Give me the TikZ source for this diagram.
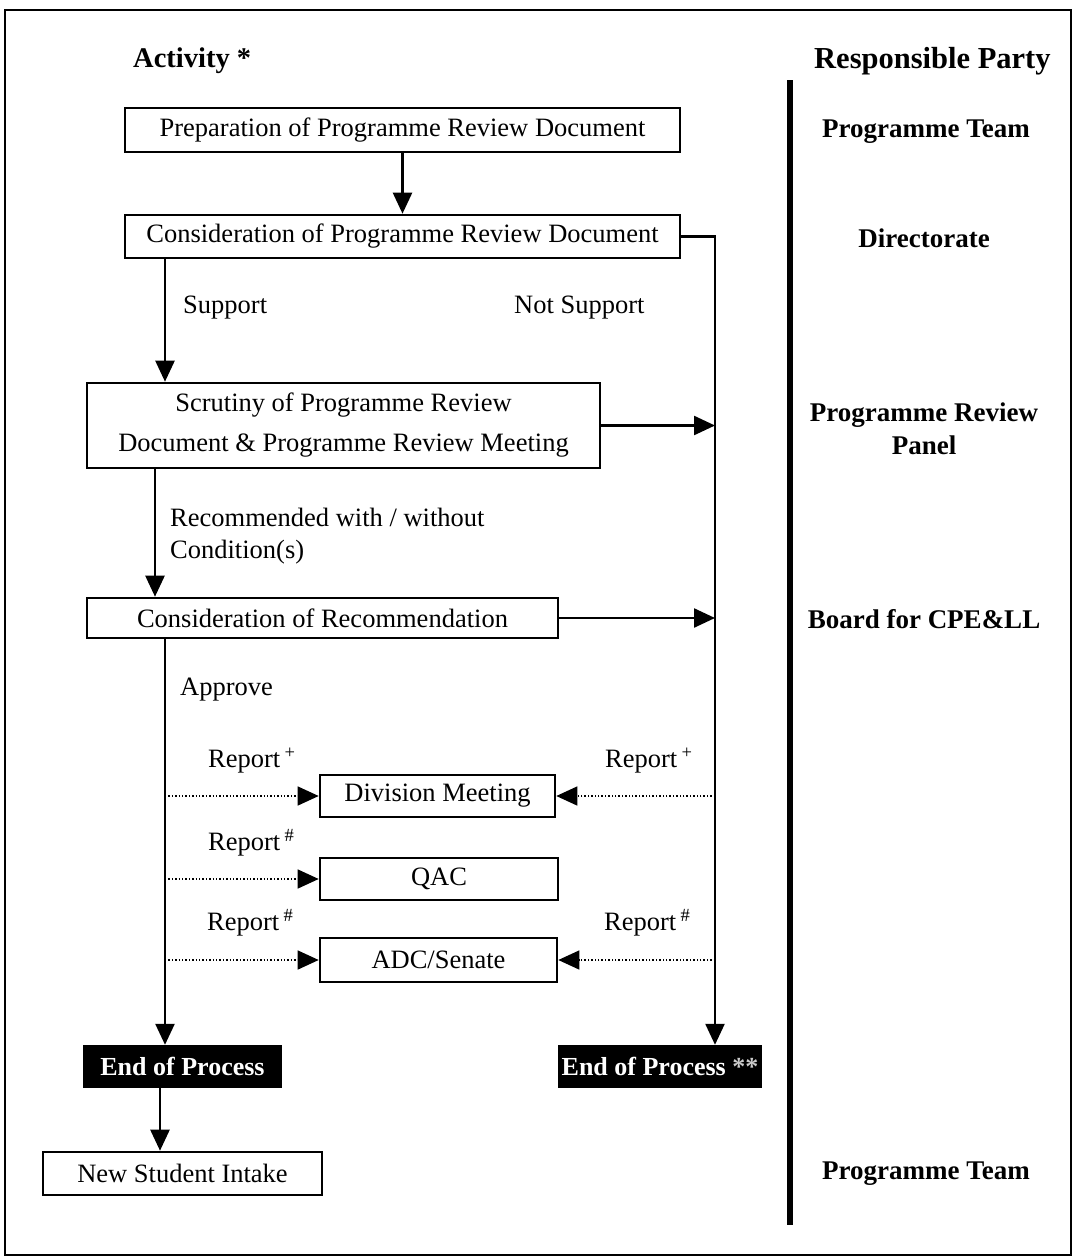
\documentclass[tikz,border=0pt]{standalone}
\usepackage{fontspec}
\setmainfont{Liberation Serif}
\usetikzlibrary{arrows.meta}
\newcommand{\rsup}[1]{\,\textsuperscript{#1}}
\begin{document}
\begin{tikzpicture}[x=1pt,y=-1pt,
  every node/.style={font=\fontsize{26.5}{31}\selectfont},
  box/.style={draw,line width=2.6pt,inner sep=0pt,align=center},
  endbox/.style={fill=black,text=white,inner sep=0pt,font=\fontsize{26}{31}\selectfont\bfseries},
  lbl/.style={anchor=west,inner sep=0pt,align=left},
  party/.style={font=\fontsize{27}{31}\selectfont\bfseries,align=center,inner sep=0pt},
  head/.style={font=\fontsize{30.5}{34}\selectfont\bfseries,inner sep=0pt},
  arr/.style={line width=2.4pt,-{Triangle[length=21pt,width=19pt]}},
  dotarr/.style={line width=1.4pt,dotted,-{Triangle[length=21pt,width=19pt]}}
]
\useasboundingbox (0,0) rectangle (1073,1258);
\draw[line width=2pt] (5,10) rectangle (1071,1255);

% headings
\node[head,anchor=west,font=\fontsize{28.5}{34}\selectfont\bfseries] (hact) at (133,61) {Activity *};
\node[head,anchor=west] (hresp) at (814,61) {Responsible Party};
\coordinate (vt) at (790,80);
\coordinate (vb) at (790,1225);
\draw[line width=6pt] (vt) -- (vb);

% x positions
\coordinate (xL) at (165,0);
\coordinate (xM) at (155,0);
\coordinate (xE) at (160,0);
\coordinate (xR) at (715,0);

% boxes
\node[box,minimum width=555pt,minimum height=44pt] (b1) at (402.5,130) {Preparation of Programme Review Document};
\node[box,minimum width=555pt,minimum height=43pt] (b2) at (402.5,236.5) {Consideration of Programme Review Document};
\node[box,minimum width=513pt,minimum height=85pt] (b3) at (343.5,425.5) {Scrutiny of Programme Review\\[9pt]Document \& Programme Review Meeting};
\node[box,minimum width=471pt,minimum height=40pt] (b4) at (322.5,618) {Consideration of Recommendation};
\node[box,minimum width=235pt,minimum height=42pt] (div) at (437.5,796) {Division Meeting};
\node[box,minimum width=238pt,minimum height=42pt] (qac) at (439,879) {QAC};
\node[box,minimum width=237pt,minimum height=44pt] (adc) at (438.5,960) {ADC/Senate};
\node[endbox,minimum width=199pt,minimum height=43pt] (e1) at (182.5,1066.5) {End of Process};
\node[endbox,minimum width=204pt,minimum height=43pt] (e2) at (660,1066.5) {End of Process {\color{gray!40}**}};
\node[box,minimum width=279pt,minimum height=43pt] (nsi) at (182.5,1173.5) {New Student Intake};

% labels
\node[lbl] (lsup) at (183,308) {Support};
\node[lbl] (lnot) at (514,308) {Not Support};
\node[lbl] (lrec) at (170,536) {Recommended with / without\\[1pt]Condition(s)};
\node[lbl] (lapp) at (180,690) {Approve};
\node[lbl] (r1) at (208,761) {Report\rsup{+}};
\node[lbl] (r2) at (605,761) {Report\rsup{+}};
\node[lbl] (r3) at (208,843) {Report\rsup{\#}};
\node[lbl] (r4) at (207,923) {Report\rsup{\#}};
\node[lbl] (r5) at (604,923) {Report\rsup{\#}};

% responsible parties
\node[party] (p1) at (926,132) {Programme Team};
\node[party] (p2) at (924,238) {Directorate};
\node[party] (p3) at (924,429) {Programme Review\\[2pt]Panel};
\node[party] (p4) at (924,619) {Board for CPE\&LL};
\node[party] (p5) at (926,1174) {Programme Team};

% connectors
\draw[arr] (b1.south) -- (b2.north);
\draw[arr] (b2.south -| xL) -- (b3.north -| xL);
\draw[arr] (b3.south -| xM) -- (b4.north -| xM);
\draw[arr] (b4.south -| xL) -- (e1.north -| xL);
\draw[arr] (e1.south -| xE) -- (nsi.north -| xE);
\draw[arr] (b2.east) -| (xR |- e2.north);
\draw[arr] (b3.east) -- (xR |- b3.east);
\draw[arr] (b4.east) -- (xR |- b4.east);

\draw[dotarr] (xL |- div.west) -- (div.west);
\draw[dotarr] (xR |- div.east) -- (div.east);
\draw[dotarr] (xL |- qac.west) -- (qac.west);
\draw[dotarr] (xL |- adc.west) -- (adc.west);
\draw[dotarr] (xR |- adc.east) -- (adc.east);
\end{tikzpicture}
\end{document}
